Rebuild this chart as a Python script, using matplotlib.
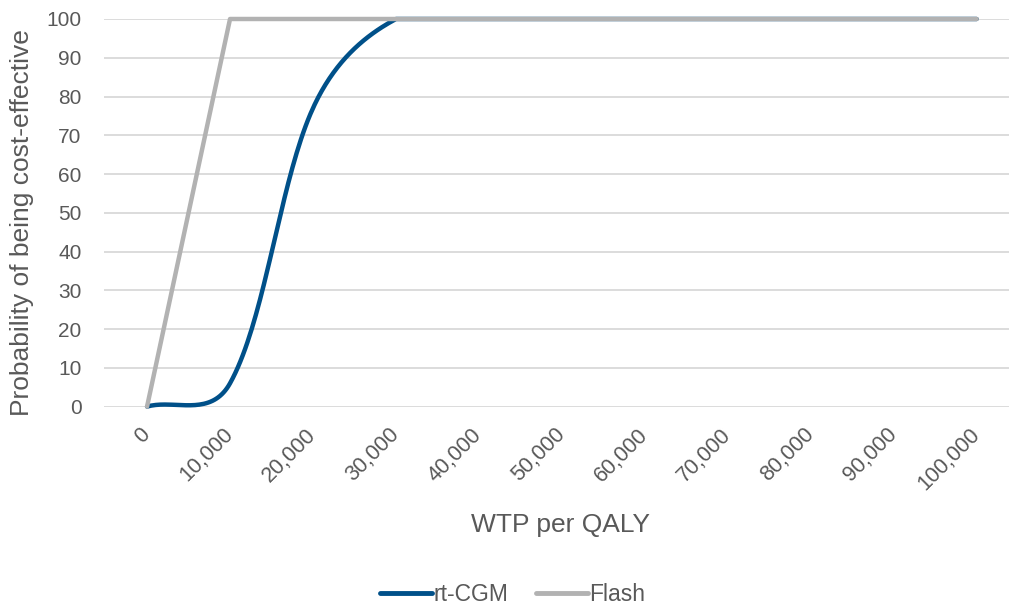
import numpy as np
import matplotlib.pyplot as plt

plt.rcParams['font.family'] = ['Liberation Sans', 'DejaVu Sans']

# data
wtp = [0, 10000, 20000, 30000, 40000, 50000, 60000, 70000, 80000, 90000, 100000]
rt_cgm = [0, 6, 77, 100, 100, 100, 100, 100, 100, 100, 100]
flash = [0, 100, 100, 100, 100, 100, 100, 100, 100, 100, 100]
tick_labels = ['0', '10,000', '20,000', '30,000', '40,000', '50,000',
               '60,000', '70,000', '80,000', '90,000', '100,000']

txt = '#595959'
blue = '#005089'
grey = '#b2b2b2'


def smooth(x, y, sx=83 / 10000, sy=3.87, n=40):
    # smoothed line: bezier pieces with catmull-rom tangents, the two arms at
    # each point shared out by (sqrt) screen chord length
    x = np.asarray(x, float)
    y = np.asarray(y, float)
    m = len(x)
    chord = np.hypot(np.diff(x) * sx, np.diff(y) * sy) ** 0.5
    tx = np.zeros(m)
    ty = np.zeros(m)
    for i in range(m):
        a = max(i - 1, 0)
        b = min(i + 1, m - 1)
        tx[i] = (x[b] - x[a]) / (b - a)
        ty[i] = (y[b] - y[a]) / (b - a)
    t = np.linspace(0, 1, n)[:, None]
    out = []
    for i in range(m - 1):
        if i > 0:
            wa = chord[i] / (chord[i - 1] + chord[i]) * 2 / 3
        else:
            wa = 1 / 3
        if i + 1 < m - 1:
            wb = chord[i] / (chord[i] + chord[i + 1]) * 2 / 3
        else:
            wb = 1 / 3
        p0 = np.array([x[i], y[i]])
        p3 = np.array([x[i + 1], y[i + 1]])
        p1 = p0 + wa * np.array([tx[i], ty[i]])
        p2 = p3 - wb * np.array([tx[i + 1], ty[i + 1]])
        seg = (1 - t) ** 3 * p0 + 3 * (1 - t) ** 2 * t * p1 + 3 * (1 - t) * t ** 2 * p2 + t ** 3 * p3
        out.append(seg)
    out = np.vstack(out)
    return out[:, 0], np.minimum(out[:, 1], y.max())


fig = plt.figure(figsize=(10.09, 6.05), dpi=100)
ax = fig.add_axes([0.103, 0.328, 0.897, 0.6406])

cx, cy = smooth(wtp, rt_cgm)
ax.plot(cx, cy, color=blue, lw=3.2, label='rt-CGM', clip_on=False, solid_capstyle='round', zorder=3)
ax.plot(wtp, flash, color=grey, lw=3.2, label='Flash', clip_on=False, solid_capstyle='round', zorder=4)

ax.set_xlim(-5200, 103900)
ax.set_ylim(0, 100)
ax.set_yticks(np.arange(0, 101, 10))
ax.set_xticks(wtp)
ax.set_xticklabels(tick_labels, rotation=45, ha='right', va='center', rotation_mode='anchor')

ax.grid(axis='y', color='#d9d9d9', lw=1.3)
ax.set_axisbelow(True)
for s in ax.spines.values():
    s.set_visible(False)
ax.tick_params(axis='both', length=0, colors=txt, labelsize=15)
ax.tick_params(axis='x', pad=18, labelsize=15.5)
ax.tick_params(axis='y', pad=16)

ax.set_ylabel('Probability of being cost-effective', fontsize=19, color=txt, va='center')
ax.yaxis.set_label_coords(-0.0906, 0.476)
ax.set_xlabel('WTP per QALY', fontsize=19, color=txt, va='center')
ax.xaxis.set_label_coords(0.504, -0.305)

leg = fig.legend(loc='center', bbox_to_anchor=(0.508, 0.018), ncol=2, frameon=False,
                 fontsize=16.5, handlelength=2.3, handletextpad=0.05, columnspacing=1.2)
for tx in leg.get_texts():
    tx.set_color(txt)
for l in leg.get_lines():
    l.set_linewidth(3.5)

fig.savefig('out.png', dpi=100)
